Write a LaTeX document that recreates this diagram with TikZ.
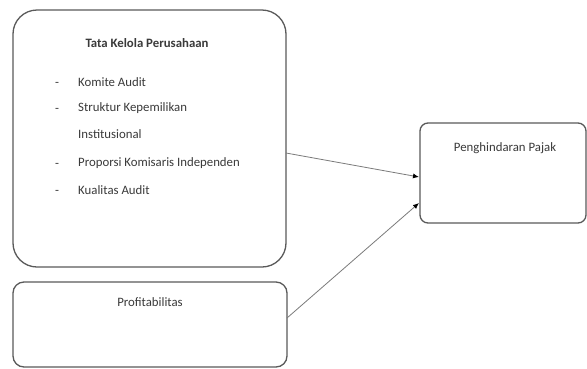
\documentclass[tikz,border=0pt]{standalone}
\usepackage{fontspec}
\setmainfont{Carlito}
\usetikzlibrary{arrows.meta}
\definecolor{boxline}{HTML}{5A5A5A}
\definecolor{txt}{HTML}{3A3A3A}
\begin{document}
\begin{tikzpicture}[x=1pt,y=-1pt,
  boxstyle/.style={draw=boxline,line width=1.3pt,fill=white,rectangle,inner sep=0pt,outer sep=0pt},
  lbl/.style={text=txt,font=\fontsize{12.8}{15}\selectfont,inner sep=0pt},
  conn/.style={draw=boxline!80,line width=0.8pt,-{Latex[length=6pt,width=5pt,black]}}]
\useasboundingbox (0,0) rectangle (587,368);
\fill[white] (0,0) rectangle (587,368);
% boxes
\node[boxstyle,rounded corners=24pt,minimum width=273pt,minimum height=257pt] (gov) at (149.5,138.5) {};
\node[boxstyle,rounded corners=11pt,minimum width=274pt,minimum height=85pt] (prof) at (150,324.5) {};
\node[boxstyle,rounded corners=8pt,minimum width=166pt,minimum height=100pt] (tax) at (503,173) {};
% texts
\node[lbl,font=\bfseries\fontsize{12.8}{15}\selectfont] (title) at (147,43) {Tata Kelola Perusahaan};
\foreach \y/\t/\d in {82/Komite Audit/1,108/Struktur Kepemilikan/1,134/Institusional/0,163/Proporsi Komisaris Independen/1,190/Kualitas Audit/1}{
  \node[lbl,anchor=west] at (78,\y) {\t};
  \ifnum\d=1 \node[lbl] at (57,\y+2) {-};\fi
}
\node[lbl] (proflbl) at (150,302) {Profitabilitas};
\node[lbl] (taxlbl) at (505,148) {Penghindaran Pajak};
% connectors
\draw[conn] ([yshift=-14.5pt]gov.east) -- ([yshift=-4pt,xshift=-1pt]tax.west);
\draw[conn] ([yshift=6.5pt]prof.east) -- ([yshift=-30pt,xshift=-1pt]tax.west);
\end{tikzpicture}
\end{document}
